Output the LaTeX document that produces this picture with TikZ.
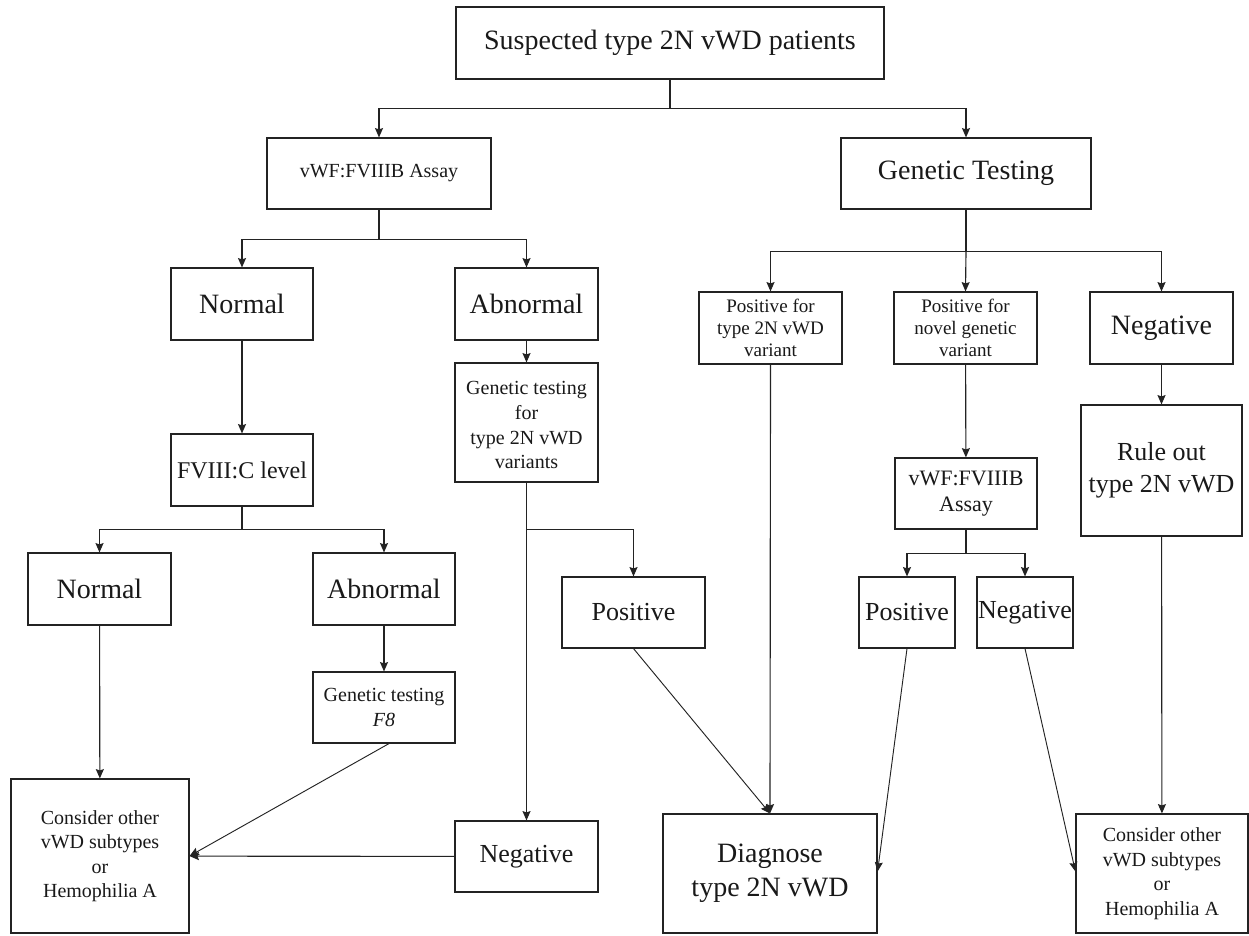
\documentclass[tikz,border=0pt]{standalone}
\usepackage{fontspec}
\setmainfont{Liberation Serif}
\usetikzlibrary{arrows.meta}
\definecolor{linec}{RGB}{35,35,35}
\definecolor{textc}{RGB}{25,25,25}
\newcommand{\szA}{\fontsize{21}{24}\selectfont}
\newcommand{\szR}{\fontsize{19.5}{24}\selectfont}
\newcommand{\szDg}{\fontsize{21}{25.5}\selectfont}
\newcommand{\szB}{\fontsize{19.5}{23}\selectfont}
\newcommand{\szC}{\fontsize{18}{21}\selectfont}
\newcommand{\szD}{\fontsize{15}{18.4}\selectfont}
\newcommand{\szE}{\fontsize{14.3}{16.5}\selectfont}
\newcommand{\szF}{\fontsize{16.5}{19}\selectfont}
\tikzset{
  bx/.style 2 args={draw=linec, line width=0.85pt, minimum width=#1*0.75pt,
    minimum height=#2*0.75pt, inner sep=0pt, align=center, text=textc},
  arr/.style={draw=linec, line width=0.85pt, -{Stealth[length=7pt,width=6pt,inset=1pt]}},
  slant/.style={draw=linec, line width=0.7pt, -{Stealth[length=7pt,width=6pt,inset=1pt]}},
}
\begin{document}
\begin{tikzpicture}[x=0.75pt,y=-0.75pt]
\fill[white] (0,0) rectangle (1249,935);
\useasboundingbox (0,0) rectangle (1249,935);

% nodes
\node[bx={428}{72}, font=\szA] (top) at (670,43) {Suspected type 2N vWD patients};
\node[bx={224}{71}, font=\szD] (vwfa) at (379,173.5) {vWF:FVIIIB Assay};
\node[bx={250}{71}, font=\szA] (gen) at (966,173.5) {Genetic Testing};

\node[bx={142}{72}, font=\szA] (norma) at (242,304) {Normal};
\node[bx={143}{72}, font=\szA] (abna) at (526.5,304) {Abnormal};
\node[bx={143}{119}, font=\szD] (gtn) at (526.5,422.5) {\rule{0pt}{14pt}Genetic testing\\for\\type 2N vWD\\variants};
\node[bx={142}{72}, font=\szC] (fviii) at (242,470) {FVIII:C level};

\node[bx={143}{72}, font=\szA] (normb) at (99.5,589) {Normal};
\node[bx={142}{72}, font=\szA] (abnb) at (384,589) {Abnormal};
\node[bx={142}{71}, font=\szD] (feight) at (384,707.5) {Genetic testing\\\textit{F8}};
\node[bx={178}{154}, font=\szD] (consa) at (100,856) {Consider other\\vWD subtypes\\or\\Hemophilia A};
\node[bx={143}{71}, font=\szB] (nega) at (526.5,856.5) {Negative};
\node[bx={143}{71}, font=\szB] (posa) at (633.5,612.5) {Positive};
\node[bx={214}{119}, font=\szDg] (dg) at (770,873.5) {Diagnose\\type 2N vWD};

\node[bx={143}{72}, font=\szE] (ptn) at (770.5,328) {Positive for\\type 2N vWD\\variant};
\node[bx={143}{72}, font=\szE] (pnov) at (965.5,328) {Positive for\\novel genetic\\variant};
\node[bx={143}{72}, font=\szA] (negb) at (1161.5,328) {Negative};
\node[bx={161}{131}, font=\szR] (rule) at (1161.5,470.5) {Rule out\\type 2N vWD};
\node[bx={142}{71}, font=\szF] (vwfb) at (966,493.5) {vWF:FVIIIB\\Assay};
\node[bx={96}{71}, font=\szB] (posb) at (907,612.5) {Positive};
\node[bx={96}{71}, font=\szB] (negc) at (1025,612.5) {Negative};
\node[bx={172}{119}, font=\szD] (consb) at (1162,873.5) {Consider other\\vWD subtypes\\or\\Hemophilia A};

% branch points
\path (top.south) ++(0,29) coordinate (jt);
\path (vwfa.south) ++(0,30) coordinate (jv);
\path (gen.south) ++(0,42) coordinate (jg);
\path (fviii.south) ++(0,23) coordinate (jf);
\path (gtn.south) ++(0,47) coordinate (jn);
\path (vwfb.south) ++(0,24) coordinate (jw);

% connectors
\draw[arr] (top.south) -- (jt) -| (vwfa.north);
\draw[arr] (jt) -| (gen.north);
\draw[arr] (vwfa.south) -- (jv) -| (norma.north);
\draw[arr] (jv) -| (abna.north);
\draw[arr] (gen.south) -- (jg) -| (ptn.north);
\draw[arr] (jg) -| (negb.north);
\draw[arr] (jg) -- (pnov.north);

\draw[arr] (norma) -- (fviii);
\draw[arr] (abna) -- (gtn);
\draw[arr] (fviii.south) -- (jf) -| (normb.north);
\draw[arr] (jf) -| (abnb.north);
\draw[arr] (normb) -- (consa);
\draw[arr] (abnb) -- (feight);
\draw[slant] ([xshift=3.75pt]feight.south) -- (consa.east);
\draw[arr] (gtn) -- (nega);
\draw[arr] (jn) -| (posa.north);
\draw[arr] (nega) -- (consa);
\draw[slant] (posa.south) -- (dg.north);
\draw[arr] (ptn.south) -- (dg.north);

\draw[arr] (pnov) -- (vwfb);
\draw[arr] (vwfb.south) -- (jw) -| (posb.north);
\draw[arr] (jw) -| (negc.north);
\draw[slant] (posb.south) -- ([yshift=1.5pt]dg.east);
\draw[slant] (negc.south) -- ([yshift=1.5pt]consb.west);
\draw[arr] (negb) -- (rule);
\draw[arr] (rule) -- (consb);
\end{tikzpicture}
\end{document}
